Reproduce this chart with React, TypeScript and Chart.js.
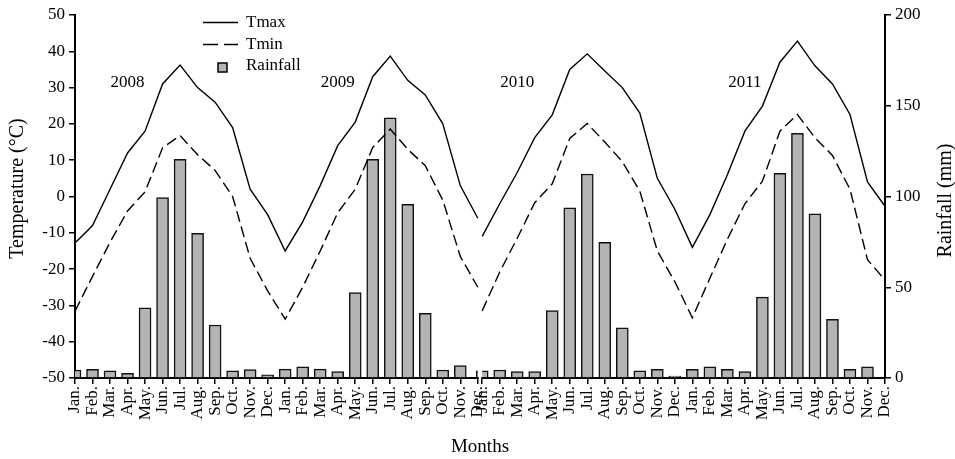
import React, { useEffect, useRef } from 'react';
import { Chart, registerables } from 'chart.js';

Chart.register(...registerables);

// ---------- data ----------
const years = ['2008', '2009', '2010', '2011'];
const monthLabels = ['Jan.', 'Feb.', 'Mar.', 'Apr.', 'May.', 'Jun.', 'Jul.', 'Aug.', 'Sep.', 'Oct.', 'Nov.', 'Dec.'];

// Monthly maximum temperature (°C), Jan 2008 – Dec 2011
const tmax = [
  -12.8, -8, 2, 12, 18, 31, 36.2, 30, 26, 19, 2, -5,
  -15, -7, 3, 14, 20.5, 33, 38.7, 32, 28, 20, 3, -6,
  -11, -2, 6.6, 16.2, 22.5, 35, 39.3, 34.6, 30, 23, 5, -3.5,
  -14, -5, 6, 18, 24.9, 37, 42.8, 36, 31, 22.6, 4, -2.7,
];

// Monthly minimum temperature (°C)
const tmin = [
  -31.6, -22, -12.6, -4, 1.3, 13.4, 16.8, 11.5, 7.2, 0, -17, -26,
  -33.8, -25, -15, -4.5, 2, 13.5, 18.6, 13, 8.5, -1, -16.5, -25,
  -31.5, -20.8, -11.5, -1.7, 3.5, 16, 20.1, 15, 9.6, 1.5, -15, -23.5,
  -33.4, -22.5, -11.8, -2, 4.2, 18, 22.6, 16.2, 11.3, 2, -17.4, -23,
];

// Monthly rainfall (mm)
const rainfall: (number | null)[] = [
  4.4, 4.8, 3.9, 2.6, 38.7, 99.4, 120.5, 79.7, 29.2, 4, 4.6, 1.7,
  4.9, 6.2, 4.9, 3.5, 47, 120.5, 143.4, 95.7, 35.6, 4.4, 6.8, null,
  4.0, 4.4, 3.5, 3.5, 37.1, 93.8, 112.4, 74.8, 27.7, 4.0, 4.8, 1.1,
  4.8, 6.2, 4.8, 3.5, 44.6, 112.8, 134.8, 90.4, 32.3, 4.8, 6.2, null,
];

// month (0-based) above which each year label is written, and its height (°C)
const yearLabelMonth = [3, 3, 2, 3];
const yearLabelTemp = 31.5;

// the figure is split in two panels (2008-2009 | 2010-2011)
const PANEL_BREAK = 24;
const PANEL_SHIFT = -0.75;
const xOf = (i: number) => (i < PANEL_BREAK ? i : i + PANEL_SHIFT);

const FONT = "'Liberation Serif', 'Times New Roman', serif";
const BAR_FILL = '#b4b4b4';

const decorPlugin = {
  id: 'decor',
  beforeDatasetDraw(chart: any, args: any) {
    if (args.index !== 0) return;
    const { ctx, chartArea: a, scales } = chart;
    const p1 = scales.x.getPixelForValue(xOf(PANEL_BREAK - 1));
    const p2 = scales.x.getPixelForValue(xOf(PANEL_BREAK));
    ctx.save();
    ctx.beginPath();
    ctx.rect(a.left, 0, p1 - a.left, a.bottom + 2);
    ctx.rect(p2, 0, a.right - p2, a.bottom + 2);
    ctx.clip();
  },
  afterDatasetDraw(chart: any, args: any) {
    if (args.index === 0) chart.ctx.restore();
  },
  afterDraw(chart: any) {
    const { ctx, chartArea: a, scales } = chart;
    ctx.save();
    // break in the x axis between the two panels
    const p1 = scales.x.getPixelForValue(xOf(PANEL_BREAK - 1));
    const p2 = scales.x.getPixelForValue(xOf(PANEL_BREAK));
    ctx.fillStyle = '#fff';
    ctx.fillRect(p1 + 1, a.bottom - 2, p2 - p1 - 2, 4);

    // legend
    ctx.fillStyle = '#000';
    ctx.strokeStyle = '#000';
    ctx.font = `17px ${FONT}`;
    ctx.textAlign = 'left';
    ctx.textBaseline = 'middle';
    ctx.lineWidth = 1.4;
    ctx.beginPath();
    ctx.moveTo(203, 22.5);
    ctx.lineTo(238, 22.5);
    ctx.stroke();
    ctx.fillText('Tmax', 246, 23);
    ctx.setLineDash([15, 6]);
    ctx.beginPath();
    ctx.moveTo(203, 44.5);
    ctx.lineTo(238, 44.5);
    ctx.stroke();
    ctx.setLineDash([]);
    ctx.fillText('Tmin', 246, 45);
    ctx.fillStyle = BAR_FILL;
    ctx.fillRect(218, 63, 9, 9);
    ctx.lineWidth = 1.5;
    ctx.strokeRect(218, 63, 9, 9);
    ctx.fillStyle = '#000';
    ctx.fillText('Rainfall', 246, 66);

    // year labels
    ctx.textAlign = 'center';
    years.forEach((yr, k) => {
      const px = scales.x.getPixelForValue(xOf(k * 12 + yearLabelMonth[k]));
      const py = scales.y.getPixelForValue(yearLabelTemp);
      ctx.fillText(yr, px, py);
    });

    // axis titles (both read bottom to top)
    ctx.font = `20px ${FONT}`;
    ctx.save();
    ctx.translate(18, (a.top + a.bottom) / 2 - 8);
    ctx.rotate(-Math.PI / 2);
    ctx.fillText('Temperature (°C)', 0, 0);
    ctx.restore();
    ctx.translate(946, (a.top + a.bottom) / 2 + 4);
    ctx.rotate(-Math.PI / 2);
    ctx.fillText('Rainfall (mm)', 0, 0);
    ctx.restore();
  },
};

export default function App() {
  const ref = useRef<HTMLCanvasElement | null>(null);

  useEffect(() => {
    if (!ref.current) return;
    Chart.defaults.font.family = FONT;
    Chart.defaults.color = '#000';

    const noGap = (c: any) => (c.p0DataIndex === PANEL_BREAK - 1 ? 'rgba(0,0,0,0)' : '#000');

    const chart = new Chart(ref.current, {
      type: 'bar',
      data: {
        datasets: [
          {
            type: 'bar',
            label: 'Rainfall',
            data: rainfall.map((v, i) => ({ x: xOf(i), y: v })) as any,
            yAxisID: 'y1',
            backgroundColor: BAR_FILL,
            borderColor: '#111',
            borderWidth: 1.5,
            barThickness: 12,
            order: 3,
          } as any,
          {
            type: 'line',
            label: 'Tmax',
            data: tmax.map((v, i) => ({ x: xOf(i), y: v })) as any,
            yAxisID: 'y',
            borderColor: '#000',
            borderWidth: 1.4,
            pointRadius: 0,
            tension: 0,
            order: 1,
            segment: { borderColor: noGap },
          } as any,
          {
            type: 'line',
            label: 'Tmin',
            data: tmin.map((v, i) => ({ x: xOf(i), y: v })) as any,
            yAxisID: 'y',
            borderColor: '#000',
            borderWidth: 1.4,
            borderDash: [11, 5],
            pointRadius: 0,
            tension: 0,
            order: 2,
            segment: { borderColor: noGap },
          } as any,
        ],
      },
      options: {
        animation: false,
        responsive: true,
        maintainAspectRatio: false,
        devicePixelRatio: 1,
        layout: { padding: { top: 15, left: 0, right: 0, bottom: 0 } },
        plugins: {
          legend: { display: false },
          tooltip: { enabled: false },
        },
        scales: {
          x: {
            type: 'linear',
            min: 0,
            max: xOf(tmax.length - 1),
            offset: false,
            grid: {
              offset: false,
              drawOnChartArea: false,
              drawTicks: true,
              tickLength: 6,
              color: '#000',
              lineWidth: 1.5,
            },
            border: { display: true, color: '#000', width: 2 },
            afterBuildTicks: (s: any) => {
              s.ticks = tmax.map((_, i) => ({ value: xOf(i) }));
            },
            afterFit: (s: any) => {
              s.height = 81;
            },
            ticks: {
              autoSkip: false,
              maxRotation: 90,
              minRotation: 90,
              padding: 2,
              color: '#000',
              font: { size: 17, family: FONT },
              callback: (_v: any, i: number) => monthLabels[i % 12],
            },
            title: {
              display: true,
              text: 'Months',
              color: '#000',
              font: { size: 19, family: FONT },
              padding: { top: 0, bottom: 1 },
            },
          } as any,
          y: {
            type: 'linear',
            position: 'left',
            min: -50,
            max: 50,
            grid: {
              drawOnChartArea: false,
              drawTicks: true,
              tickLength: 6,
              color: '#000',
              lineWidth: 1.5,
            },
            border: { display: true, color: '#000', width: 2 },
            afterFit: (s: any) => {
              s.width = 75;
            },
            ticks: {
              stepSize: 10,
              padding: 4,
              color: '#000',
              font: { size: 17, family: FONT },
            },
          } as any,
          y1: {
            type: 'linear',
            position: 'right',
            min: 0,
            max: 200,
            grid: {
              drawOnChartArea: false,
              drawTicks: true,
              tickLength: 6,
              color: '#000',
              lineWidth: 1.5,
            },
            border: { display: true, color: '#000', width: 2 },
            afterFit: (s: any) => {
              s.width = 70;
            },
            ticks: {
              stepSize: 50,
              padding: 4,
              color: '#000',
              font: { size: 17, family: FONT },
            },
          } as any,
        },
      },
      plugins: [decorPlugin],
    });

    return () => chart.destroy();
  }, []);

  return (
    <div style={{ position: 'fixed', left: 0, top: 0, width: 955, height: 459, background: '#fff' }}>
      <canvas ref={ref} />
    </div>
  );
}
